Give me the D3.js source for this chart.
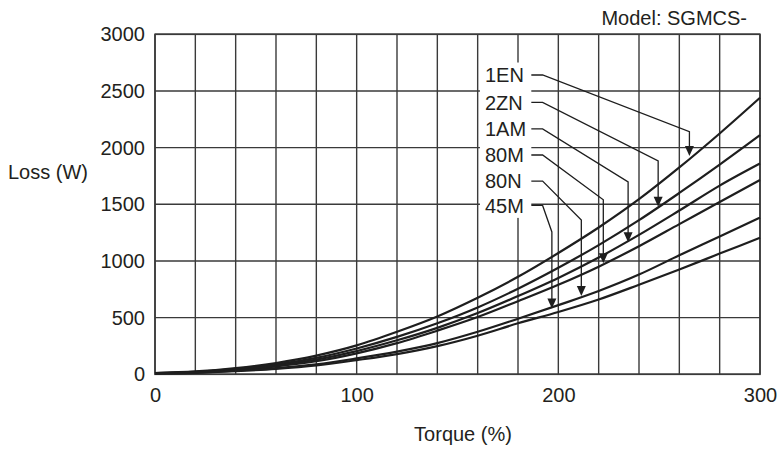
<!DOCTYPE html>
<html>
<head>
<meta charset="utf-8">
<script src="https://cdn.jsdelivr.net/npm/d3@7"></script>
<style>
  html, body { margin: 0; padding: 0; background: #fff; }
  svg { display: block; }
  text { font-family: "Liberation Sans", Arial, sans-serif; fill: #231f20; }
</style>
</head>
<body>
<svg id="chart" width="778" height="450"></svg>
<script>
// ---- data ----
const torque = [0, 20, 40, 60, 80, 100, 120, 140, 160, 180, 200, 220, 240, 260, 280, 300];
const loss1EN = [10, 25, 55, 100, 165, 255, 375, 510, 675, 860, 1070, 1295, 1545, 1825, 2125, 2440];
const loss2ZN = [10, 22, 48, 88, 145, 228, 330, 450, 590, 755, 940, 1140, 1360, 1600, 1850, 2110];
const loss1AM = [10, 20, 43, 78, 130, 205, 300, 410, 540, 690, 850, 1030, 1230, 1445, 1665, 1860];
const loss80M = [10, 18, 40, 70, 115, 185, 275, 385, 505, 645, 790, 950, 1130, 1325, 1520, 1714];
const loss80N = [8, 15, 32, 55, 88, 140, 200, 275, 375, 490, 610, 735, 880, 1050, 1215, 1382];
const loss45M = [8, 13, 28, 48, 78, 125, 178, 248, 340, 450, 550, 660, 790, 925, 1065, 1205];

const seriesNames = ["1EN", "2ZN", "1AM", "80M", "80N", "45M"];
const seriesValues = [loss1EN, loss2ZN, loss1AM, loss80M, loss80N, loss45M];

const xTicks = [0, 100, 200, 300];
const yTicks = [0, 500, 1000, 1500, 2000, 2500, 3000];
const xGrid = d3.range(0, 301, 20);
const yGrid = d3.range(0, 3001, 500);

// annotation leaders (data units)
const annLabelTorque = 163.6;   // left edge of label text
const annStartTorque = 186.6;   // leader start
const annBendTorque = 192.2;    // end of short horizontal
const annLabelLoss = [2641, 2400, 2165, 1935, 1705, 1490];
const annElbowTorque = [265.0, 249.5, 234.6, 222.3, 211.4, 196.8];
const annElbowLoss = [2141, 1882, 1697, 1540, 1362, 1256];
const annTipLoss = [1926, 1479, 1165, 980, 691, 581];

const xTitle = "Torque (%)";
const yTitle = "Loss (W)";
const modelText = "Model: SGMCS-";

// ---- layout ----
const svg = d3.select("#chart");
const plotL = 155, plotR = 760, plotT = 34.3, plotB = 374.3;
const x = d3.scaleLinear().domain([0, 300]).range([plotL, plotR]);
const y = d3.scaleLinear().domain([0, 3000]).range([plotB, plotT]);
const gridColor = "#3a3a3a";
const inkColor = "#1e1e1e";

// grid
svg.append("g").selectAll("line").data(xGrid).join("line")
  .attr("x1", d => x(d)).attr("x2", d => x(d))
  .attr("y1", plotT).attr("y2", plotB)
  .attr("stroke", gridColor).attr("stroke-width", 1.4);
svg.append("g").selectAll("line").data(yGrid).join("line")
  .attr("x1", plotL).attr("x2", plotR)
  .attr("y1", d => y(d)).attr("y2", d => y(d))
  .attr("stroke", gridColor).attr("stroke-width", 1.4);
svg.append("rect")
  .attr("x", plotL).attr("y", plotT)
  .attr("width", plotR - plotL).attr("height", plotB - plotT)
  .attr("fill", "none").attr("stroke", gridColor).attr("stroke-width", 1.6);

// axes (labels only)
const yAxis = svg.append("g").attr("transform", `translate(${plotL},0)`)
  .call(d3.axisLeft(y).tickValues(yTicks).tickSize(0).tickPadding(10).tickFormat(d3.format("d")));
const xAxis = svg.append("g").attr("transform", `translate(0,${plotB})`)
  .call(d3.axisBottom(x).tickValues(xTicks).tickSize(0).tickPadding(14).tickFormat(d3.format("d")));
[yAxis, xAxis].forEach(g => {
  g.select(".domain").remove();
  g.selectAll("text").attr("font-size", 20).attr("fill", "#231f20")
    .attr("font-family", "Liberation Sans, Arial, sans-serif");
});

// curves
const line = d3.line().x((d, i) => x(torque[i])).y(d => y(d)).curve(d3.curveMonotoneX);
svg.append("g").selectAll("path").data(seriesValues).join("path")
  .attr("d", d => line(d))
  .attr("fill", "none").attr("stroke", inkColor).attr("stroke-width", 2.2)
  .attr("stroke-linejoin", "round");

// label background
const labelTop = annLabelLoss[0] + 110;
const labelBottom = annLabelLoss[annLabelLoss.length - 1] - 110;
svg.append("rect")
  .attr("x", x(annLabelTorque) - 5).attr("y", y(labelTop))
  .attr("width", x(annStartTorque) - x(annLabelTorque) + 5)
  .attr("height", y(labelBottom) - y(labelTop))
  .attr("fill", "#fff");

// labels
svg.append("g").selectAll("text").data(seriesNames).join("text")
  .attr("x", x(annLabelTorque))
  .attr("y", (d, i) => y(annLabelLoss[i]))
  .attr("dy", "0.36em")
  .attr("font-size", 20)
  .text(d => d);

// leaders
svg.append("g").selectAll("path").data(seriesNames).join("path")
  .attr("d", (d, i) => d3.line()([
    [x(annStartTorque), y(annLabelLoss[i])],
    [x(annBendTorque), y(annLabelLoss[i])],
    [x(annElbowTorque[i]), y(annElbowLoss[i])],
    [x(annElbowTorque[i]), y(annTipLoss[i]) - 7]
  ]))
  .attr("fill", "none").attr("stroke", inkColor).attr("stroke-width", 1.3);

// arrowheads
svg.append("g").selectAll("path").data(seriesNames).join("path")
  .attr("d", (d, i) => {
    const tx = x(annElbowTorque[i]), ty = y(annTipLoss[i]);
    return `M${tx},${ty}L${tx - 4.5},${ty - 10}L${tx + 4.5},${ty - 10}Z`;
  })
  .attr("fill", inkColor);

// titles
svg.append("text").attr("x", 8).attr("y", 179).attr("font-size", 20).text(yTitle);
svg.append("text").attr("x", 463).attr("y", 441).attr("text-anchor", "middle")
  .attr("font-size", 20).text(xTitle);
svg.append("text").attr("x", 747).attr("y", 25).attr("text-anchor", "end")
  .attr("font-size", 20).text(modelText);
</script>
</body>
</html>
